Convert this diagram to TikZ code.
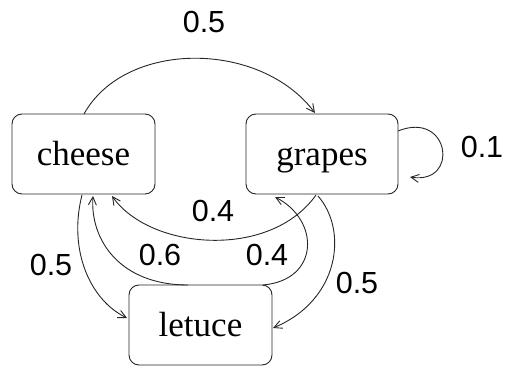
\documentclass[tikz,border=0pt]{standalone}
\usepackage{fontspec}
\setmainfont{Liberation Serif}
\newfontfamily\labfont{Liberation Sans}
\usetikzlibrary{arrows.meta}
\begin{document}
\begin{tikzpicture}[x=1pt,y=-1pt,
  state/.style={draw=black!85, line width=0.9pt, rounded corners=10pt, inner sep=0pt,
    minimum height=80pt, text height=24pt, text depth=0pt, font=\fontsize{35}{40}\selectfont},
  edge/.style={draw=black!85, line width=0.9pt, -{Straight Barb[length=8pt,width=8pt]}},
  lab/.style={font=\labfont\fontsize{30.5}{34}\selectfont, inner sep=0pt}]
\useasboundingbox (0,0) rectangle (507,366);
\node[state, minimum width=143pt] (cheese) at (83.5,154) {cheese};
\node[state, minimum width=152pt] (grapes) at (322,154) {grapes};
\node[state, minimum width=143pt] (letuce) at (200.5,325) {letuce};

\coordinate (c1) at (84,114);
\coordinate (g1) at (315,113);
\draw[edge] (c1) .. controls (125,40) and (260,40) .. (g1);

\coordinate (g2) at (398,131);
\coordinate (g3) at (410,177);
\draw[edge] (g2) .. controls (450,110) and (460,185) .. (g3);

\coordinate (g4) at (316,195);
\coordinate (c2) at (112,196);
\draw[edge] (g4) .. controls (270,260) and (150,250) .. (c2);

\coordinate (c3) at (82,195);
\coordinate (l1) at (127,318);
\draw[edge] (c3) .. controls (68,250) and (90,300) .. (l1);

\coordinate (l2) at (188,285);
\coordinate (c4) at (93,196);
\draw[edge] (l2) .. controls (120,285) and (90,240) .. (c4);

\coordinate (l3) at (263,285);
\coordinate (g5) at (275,197);
\draw[edge] (l3) .. controls (320,280) and (320,220) .. (g5);

\coordinate (g6) at (318,196);
\coordinate (l4) at (273,328);
\draw[edge] (g6) .. controls (348,230) and (340,300) .. (l4);

\node[lab] (p1) at (204,22) {0.5};
\node[lab] (p2) at (482,147) {0.1};
\node[lab] (p3) at (213,211) {0.4};
\node[lab] (p4) at (51,265) {0.5};
\node[lab] (p5) at (160,255) {0.6};
\node[lab] (p6) at (267,255) {0.4};
\node[lab] (p7) at (357,283) {0.5};
\end{tikzpicture}
\end{document}
